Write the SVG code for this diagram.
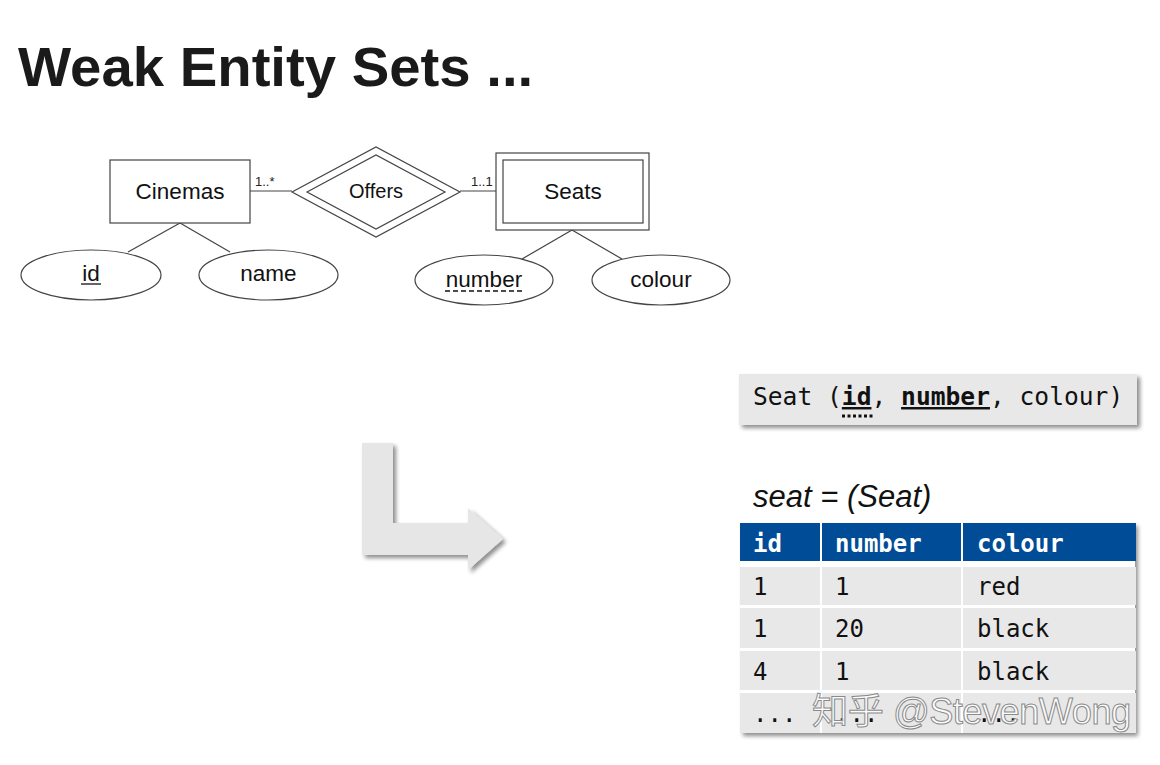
<svg xmlns="http://www.w3.org/2000/svg" width="1160" height="765" viewBox="0 0 1160 765">
<defs>
<style>
.er{fill:#fff;stroke:#444;stroke-width:1.2}
.ln{stroke:#444;stroke-width:1.2;fill:none}
.t{font-family:"Liberation Sans",Arial,sans-serif;fill:#111;text-anchor:middle}
.m{font-family:"DejaVu Sans Mono","Liberation Mono",monospace;font-size:24px;fill:#111}
.mh{font-family:"DejaVu Sans Mono","Liberation Mono",monospace;font-size:24px;font-weight:bold;fill:#fff}
.cell{fill:#e8e8e8}
</style>
<filter id="sh" x="-10%" y="-10%" width="130%" height="140%">
<feGaussianBlur in="SourceAlpha" stdDeviation="2"/>
<feOffset dx="3" dy="3" result="b"/>
<feComponentTransfer><feFuncA type="linear" slope="0.45"/></feComponentTransfer>
<feMerge><feMergeNode/><feMergeNode in="SourceGraphic"/></feMerge>
</filter>
</defs>
<rect width="1160" height="765" fill="#fff"/>
<text x="18" y="86" font-family="Liberation Sans,Arial,sans-serif" font-weight="bold" font-size="56.3" fill="#1a1a1a">Weak Entity Sets ...</text>

<g id="connectors">
<line class="ln" x1="250" y1="191" x2="292" y2="191"/>
<line class="ln" x1="460" y1="191" x2="496" y2="191"/>
<line class="ln" x1="180" y1="223" x2="128" y2="252"/>
<line class="ln" x1="180" y1="223" x2="230" y2="252"/>
<line class="ln" x1="572" y1="230" x2="522" y2="259"/>
<line class="ln" x1="572" y1="230" x2="622" y2="259"/>
<text x="255" y="186" font-family="Liberation Sans,Arial,sans-serif" font-size="13" fill="#222">1..*</text>
<text x="471" y="186" font-family="Liberation Sans,Arial,sans-serif" font-size="13" fill="#222">1..1</text>
</g>

<g id="cinemas">
<rect class="er" x="110" y="160" width="140" height="63"/>
<text class="t" x="180" y="199" font-size="22.5">Cinemas</text>
</g>
<g id="offers">
<polygon class="er" points="292,192 376,147 460,192 376,237"/>
<polygon class="er" points="307,192 376,155 445,192 376,229"/>
<text class="t" x="376" y="198" font-size="20">Offers</text>
</g>
<g id="seats">
<rect class="er" x="496" y="153" width="153" height="77"/>
<rect class="er" x="503" y="160" width="140" height="63"/>
<text class="t" x="573" y="199" font-size="22.5">Seats</text>
</g>
<g id="attr-id">
<ellipse class="er" cx="91" cy="275" rx="70" ry="25"/>
<text class="t" x="91" y="281" font-size="22.5">id</text>
<line x1="81" y1="284" x2="101" y2="284" stroke="#111" stroke-width="1.3"/>
</g>
<g id="attr-name">
<ellipse class="er" cx="268.5" cy="275" rx="69.5" ry="25"/>
<text class="t" x="268.5" y="281" font-size="22.5">name</text>
</g>
<g id="attr-number">
<ellipse class="er" cx="484" cy="280" rx="69" ry="25"/>
<text class="t" x="484" y="287" font-size="22.5">number</text>
<line x1="445" y1="291" x2="523" y2="291" stroke="#111" stroke-width="1.5" stroke-dasharray="5,3"/>
</g>
<g id="attr-colour">
<ellipse class="er" cx="661" cy="280" rx="69" ry="25"/>
<text class="t" x="661" y="287" font-size="22.5">colour</text>
</g>

<g id="arrow" filter="url(#sh)">
<path d="M362,443 H393 V523 H468 V508 L503,539 L468,570 V555 H362 Z" fill="#e6e6e6"/>
</g>

<g id="schema">
<rect x="739" y="374" width="398" height="51" fill="#e8e8e8" filter="url(#sh)"/>
<text class="m" x="753" y="405" font-size="24.6" style="font-size:24.6px" xml:space="preserve">Seat (<tspan font-weight="bold" text-decoration="underline">id</tspan>, <tspan font-weight="bold" text-decoration="underline">number</tspan>, colour)</text>
<line x1="842" y1="416" x2="873" y2="416" stroke="#111" stroke-width="3" stroke-dasharray="3,2.5"/>
</g>

<g id="table">
<text x="753" y="507" font-family="Liberation Sans,Arial,sans-serif" font-style="italic" font-size="31" fill="#111">seat = (Seat)</text>
<g filter="url(#sh)">
<rect x="740" y="523" width="395" height="210" fill="#fff"/>
</g>
<rect x="740" y="523" width="80" height="38" fill="#004c97"/>
<rect x="822" y="523" width="139" height="38" fill="#004c97"/>
<rect x="963" y="523" width="173" height="38" fill="#004c97"/>
<text class="mh" x="753" y="552">id</text>
<text class="mh" x="835" y="552">number</text>
<text class="mh" x="977" y="552">colour</text>

<rect class="cell" x="740" y="567" width="80" height="38"/>
<rect class="cell" x="822" y="567" width="139" height="38"/>
<rect class="cell" x="963" y="567" width="173" height="38"/>
<rect class="cell" x="740" y="608" width="80" height="40"/>
<rect class="cell" x="822" y="608" width="139" height="40"/>
<rect class="cell" x="963" y="608" width="173" height="40"/>
<rect class="cell" x="740" y="651" width="80" height="39"/>
<rect class="cell" x="822" y="651" width="139" height="39"/>
<rect class="cell" x="963" y="651" width="173" height="39"/>
<rect class="cell" x="740" y="693" width="80" height="40"/>
<rect class="cell" x="822" y="693" width="139" height="40"/>
<rect class="cell" x="963" y="693" width="173" height="40"/>

<text class="m" x="753" y="595">1</text>
<text class="m" x="835" y="595">1</text>
<text class="m" x="977" y="595">red</text>
<text class="m" x="753" y="637">1</text>
<text class="m" x="835" y="637">20</text>
<text class="m" x="977" y="637">black</text>
<text class="m" x="753" y="680">4</text>
<text class="m" x="835" y="680">1</text>
<text class="m" x="977" y="680">black</text>
<text class="m" x="753" y="722">...</text>
<text class="m" x="835" y="722">...</text>
<text class="m" x="977" y="722">...</text>
</g>

<text x="812" y="724" font-family="Liberation Sans,'Noto Sans CJK SC',sans-serif" font-size="36.2" fill="#fff" fill-opacity="0.85" stroke="#8a8a8a" stroke-width="1" letter-spacing="-0.5">知乎 @StevenWong</text>
</svg>
